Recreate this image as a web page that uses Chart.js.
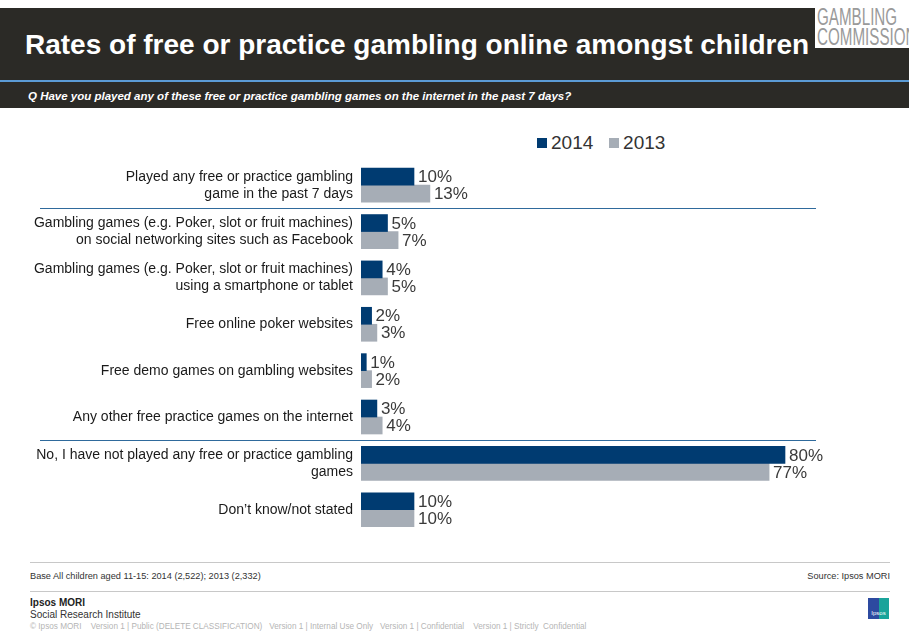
<!DOCTYPE html>
<html>
<head>
<meta charset="utf-8">
<script src="https://cdn.jsdelivr.net/npm/chart.js@4.4.1/dist/chart.umd.min.js"></script>
<style>
  html, body { margin: 0; padding: 0; background: #fff; }
  body { width: 909px; height: 631px; position: relative; overflow: hidden; font-family: "Liberation Sans", Arial, sans-serif; }
  .band { position: absolute; left: 0; top: 8px; width: 909px; height: 100px; background: #2b2a26; }
  .band .rule { position: absolute; left: 0; top: 72px; width: 909px; height: 2px; background: #5b9bd5; }
  .title { position: absolute; left: 25px; top: 29px; color: #fff; font-weight: bold; font-size: 28px; white-space: nowrap; }
  .question { position: absolute; left: 28px; top: 90px; color: #fff; font-weight: bold; font-style: italic; font-size: 11.5px; white-space: nowrap; }
  .logo { position: absolute; left: 815px; top: 0px; width: 94px; height: 48px; background: #fff; overflow: hidden; }
  .logo span { position: absolute; left: 2px; display: block; color: #9a9a9a; font-family: "Liberation Sans", sans-serif; font-size: 23px; line-height: 21px; white-space: nowrap; transform-origin: 0 0; transform: scale(0.66, 1); }
  .legend { position: absolute; left: 537px; top: 132px; font-size: 19px; color: #333; white-space: nowrap; }
  .legend span.sw { display: inline-block; width: 10px; height: 10px; margin-right: 4px; vertical-align: 1px; }
  #wrap { position: absolute; left: 0; top: 110px; width: 909px; height: 440px; }
  .hr { position: absolute; height: 1px; background: #c8c8c8; }
  .base { position: absolute; left: 30px; top: 571px; font-size: 9.2px; color: #333; white-space: nowrap; }
  .source { position: absolute; right: 19px; top: 571px; font-size: 9.2px; color: #333; white-space: nowrap; }
  .ipsos1 { position: absolute; left: 30px; top: 597px; font-size: 10px; font-weight: bold; color: #222; }
  .ipsos2 { position: absolute; left: 30px; top: 609px; font-size: 10px; color: #333; }
  .copy { position: absolute; left: 30px; top: 622px; font-size: 8.2px; color: #b5b5b5; white-space: nowrap; }
  .ilogo { position: absolute; left: 868px; top: 598px; width: 21px; height: 21px; background: linear-gradient(90deg, #2d4aa0 50%, #1aa39a 50%); color: #fff; font-size: 6px; text-align: center; line-height: 30px; }
</style>
</head>
<body>
<div class="band"><div class="rule"></div></div>
<div class="title">Rates of free or practice gambling online amongst children</div>
<div class="question">Q Have you played any of these free or practice gambling games on the internet in the past 7 days?</div>
<div class="logo"><span style="top:7px">GAMBLING</span><span style="top:27px">COMMISSION</span></div>
<div class="legend"><span class="sw" style="background:#003b71"></span>2014&nbsp;&nbsp;&nbsp;<span class="sw" style="background:#a6adb6"></span>2013</div>
<div id="wrap"><canvas id="c" width="909" height="440"></canvas></div>
<div class="hr" style="left:30px; top:562px; width:860px;"></div>
<div class="base">Base All children aged 11-15: 2014 (2,522); 2013 (2,332)</div>
<div class="source">Source: Ipsos MORI</div>
<div class="hr" style="left:30px; top:591px; width:860px;"></div>
<div class="ipsos1">Ipsos MORI</div>
<div class="ipsos2">Social Research Institute</div>
<div class="copy">© Ipsos MORI &nbsp;&nbsp; Version 1 | Public (DELETE CLASSIFICATION) &nbsp;&nbsp;Version 1 | Internal Use Only &nbsp;&nbsp;Version 1 | Confidential &nbsp;&nbsp; Version 1 | Strictly &nbsp;Confidential</div>
<div class="ilogo">Ipsos</div>
<script>
// Survey answers (each entry is a list of label lines)
const categories = [
  ["Played any free or practice gambling", "game in the past 7 days"],
  ["Gambling games (e.g. Poker, slot or fruit machines)", "on social networking sites such as Facebook"],
  ["Gambling games (e.g. Poker, slot or fruit machines)", "using a smartphone or tablet"],
  ["Free online poker websites"],
  ["Free demo games on gambling websites"],
  ["Any other free practice games on the internet"],
  ["No, I have not played any free or practice gambling", "games"],
  ["Don\u2019t know/not stated"]
];
const values2014 = [10, 5, 4, 2, 1, 3, 80, 10];
const values2013 = [13, 7, 5, 3, 2, 4, 77, 10];
const seriesNames = ["2014", "2013"];
const seriesColors = ["#003b71", "#a6adb6"];
// Rules drawn below these category indexes
const dividersAfter = [0, 5];

const valueLabels = {
  id: "valueLabels",
  afterDatasetsDraw(chart) {
    const ctx = chart.ctx;
    ctx.save();
    ctx.font = "17px 'Liberation Sans', Arial, sans-serif";
    ctx.fillStyle = "#3a3a3a";
    ctx.textAlign = "left";
    ctx.textBaseline = "middle";
    chart.data.datasets.forEach((ds, i) => {
      chart.getDatasetMeta(i).data.forEach((bar, j) => {
        ctx.fillText(ds.data[j] + "%", bar.x + 4, bar.y + 1);
      });
    });
    ctx.restore();
  }
};

const dividers = {
  id: "dividers",
  afterDraw(chart) {
    const ctx = chart.ctx;
    const y = chart.scales.y;
    ctx.save();
    ctx.strokeStyle = "#2f6a9c";
    ctx.lineWidth = 1;
    dividersAfter.forEach(i => {
      const yy = Math.round((y.getPixelForValue(i) + y.getPixelForValue(i + 1)) / 2) + 0.5;
      ctx.beginPath();
      ctx.moveTo(40, yy);
      ctx.lineTo(816, yy);
      ctx.stroke();
    });
    ctx.restore();
  }
};

new Chart(document.getElementById("c"), {
  type: "bar",
  data: {
    labels: categories,
    datasets: [
      { label: seriesNames[0], data: values2014, backgroundColor: seriesColors[0], barThickness: 17 },
      { label: seriesNames[1], data: values2013, backgroundColor: seriesColors[1], barThickness: 17 }
    ]
  },
  options: {
    indexAxis: "y",
    responsive: false,
    animation: false,
    devicePixelRatio: 1,
    layout: { padding: { top: 52, bottom: 11, right: 18, left: 0 } },
    plugins: { legend: { display: false }, tooltip: { enabled: false } },
    scales: {
      x: { display: false, min: 0, max: 100 },
      y: {
        grid: { display: false, drawBorder: false },
        border: { display: false },
        ticks: {
          color: "#1a1a1a",
          font: { family: "'Liberation Sans', Arial, sans-serif", size: 14, lineHeight: 1.22 },
          padding: 0,
          crossAlign: "near"
        },
        afterFit(scale) { scale.width = 361; }
      }
    }
  },
  plugins: [valueLabels, dividers]
});
</script>
</body>
</html>
